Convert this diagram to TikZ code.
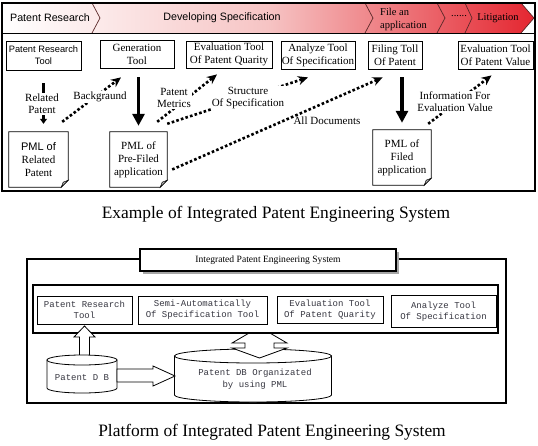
\documentclass[tikz,border=0pt]{standalone}
\usepackage{fontspec}
\setmainfont{Liberation Serif}
\setsansfont{Liberation Sans}
\setmonofont{Liberation Mono}
\usetikzlibrary{arrows.meta,shadows}
\definecolor{hred}{RGB}{228,38,48}
\definecolor{hpink}{RGB}{246,196,196}
\definecolor{chev}{RGB}{90,40,40}
\definecolor{mtxt}{RGB}{55,55,65}
\newcommand{\pmlpage}[1]{%
  \draw[line width=0.7pt] (#1.north west) -- (#1.north east) -- ([yshift=7pt]#1.south east) -- ([xshift=-7pt]#1.south east) -- (#1.south west) -- cycle;
  \draw[line width=0.5pt, fill=black!30] ([yshift=7pt]#1.south east) -- ([xshift=-5pt,yshift=5pt]#1.south east) -- ([xshift=-7pt]#1.south east) -- cycle;}
\begin{document}
\begin{tikzpicture}[x=1pt,y=-1pt,
  tbox/.style={draw, line width=0.8pt, inner sep=0pt, align=center, font=\fontsize{11}{13}\selectfont},
  docnode/.style={inner sep=0pt, align=center, font=\fontsize{11}{13}\selectfont},
  lbl/.style={align=center, font=\fontsize{11}{12}\selectfont, inner sep=1pt},
  lblw/.style={lbl, fill=white},
  dotarrow/.style={line width=2.6pt, dash pattern=on 2.6pt off 2.2pt, -{Stealth[length=10pt,width=9pt]}},
  solidarrow/.style={line width=3.4pt, -{Triangle[length=12pt,width=12pt]}},
  chevline/.style={draw=chev, line width=0.7pt},
  hsans/.style={font=\sffamily\fontsize{10.7}{12}\selectfont, inner sep=0pt},
  hserif/.style={font=\fontsize{10.5}{13}\selectfont, inner sep=0pt},
  mbox/.style={draw, line width=0.7pt, inner sep=0pt, align=center, text=mtxt, font=\ttfamily\fontsize{9}{11}\selectfont},
  mtext/.style={align=center, text=mtxt, font=\ttfamily\fontsize{9}{12}\selectfont, inner sep=0pt},
  hollow/.style={draw, line width=0.8pt, fill=white},
  caption/.style={font=\fontsize{17.4}{20}\selectfont, inner sep=0pt}
]
\useasboundingbox (0,0) rectangle (538,445);
\fill[white] (0,0) rectangle (538,445);

% ---------- header ----------
\shade[left color=white, right color=hred, middle color=hpink] (2,3) -- (521,3) -- (534,18) -- (521,33) -- (2,33) -- cycle;
\draw[chevline] (92,3) -- (100,18) -- (92,33);
\draw[chevline] (365,3) -- (373,18) -- (365,33);
\draw[chevline] (437,3) -- (445,18) -- (437,33);
\draw[chevline] (465,3) -- (472,18) -- (465,33);
\draw[chevline] (521,3) -- (534,18) -- (521,33);
\node[hsans] (h1) at (50,18) {Patent Research};
\node[hsans] (h2) at (222,18) {Developing Specification};
\node[hserif, align=left, anchor=west] (h3) at (380,19.5) {File an\\application};
\node[hserif] (h4) at (459,16) {......};
\node[hserif] (h5) at (498,18) {Litigation};

% frame
\draw[line width=1.3pt] (2,3) rectangle (535,191);
\draw[line width=1pt] (2,33) -- (535,33);

% ---------- top boxes ----------
\node[tbox, minimum width=75, minimum height=29, font=\sffamily\fontsize{9.3}{12}\selectfont] (prt) at (43.5,55.5) {Patent Research\\Tool};
\node[tbox, minimum width=74, minimum height=28] (gen) at (137,54) {Generation\\Tool};
\node[tbox, minimum width=86, minimum height=27] (eq1) at (229,54.5) {Evaluation Tool\\Of Patent Quarity};
\node[tbox, minimum width=74, minimum height=28] (an) at (318,55) {Analyze Tool\\Of Specification};
\node[tbox, minimum width=54, minimum height=28] (ft) at (395,55) {Filing Toll\\Of Patent};
\node[tbox, minimum width=75, minimum height=28] (ev) at (495.5,55) {Evaluation Tool\\Of Patent Value};

% ---------- documents ----------
\node[docnode, minimum width=59, minimum height=55] (d1) at (38.5,159.5) {{\sffamily PML of}\\Related\\Patent};
\node[docnode, minimum width=57, minimum height=55] (d2) at (138.5,159.5) {PML of\\Pre-Filed\\application};
\node[docnode, minimum width=58, minimum height=55] (d3) at (402,157.5) {PML of\\Filed\\application};
\pmlpage{d1}
\pmlpage{d2}
\pmlpage{d3}

% ---------- connectors ----------
\draw[line width=2.6pt, -{Triangle[length=5pt,width=7pt]}, shorten <=13pt, shorten >=8pt] (prt.south) -- (prt.south |- d1.north);
\node[lblw] (lrp) at (42,104) {Related\\Patent};
\draw[solidarrow, shorten <=9pt, shorten >=6pt] (d2.north |- gen.south) -- (d2.north);
\draw[solidarrow, shorten <=8pt, shorten >=7pt] (d3.north |- ft.south) -- (d3.north);

\draw[dotarrow] ([shift={(-6,-10)}]d1.north east) -- ([shift={(-16,9)}]gen.south);
\draw[dotarrow] ([shift={(-10,-10)}]d2.north east) -- ([shift={(-12,6)}]eq1.south);
\draw[dotarrow] ([shift={(0,-8)}]d2.north east) -- ([shift={(-10,8)}]an.south);
\draw[dotarrow] ([shift={(5,10)}]d2.east) -- ([shift={(15,8)}]ft.south west);
\draw[dotarrow] ([shift={(-3,-6)}]d3.north east) -- ([shift={(-4,6)}]ev.south);

\node[lblw] (lbg) at (100,97) {Backgraund};
\node[lblw] (lpm) at (174,98) {Patent\\Metrics};
\node[lblw] (lst) at (248,98) {Structure\\Of Specification};
\node[lbl] (lad) at (327,121) {All Documents};
\node[lblw] (lie) at (455,102) {Information For\\Evaluation Value};

% ---------- caption 1 ----------
\node[caption] (cap1) at (276,214) {Example of Integrated Patent Engineering System};

% ---------- lower platform ----------
\draw[line width=2.2pt] (27,259) rectangle (506,403);

% big cylinder
\filldraw[line width=0.8pt, fill=white] (174.5,356) -- (174.5,395) arc[start angle=180, end angle=0, x radius=78.5, y radius=7] -- (331.5,356) -- cycle;
\draw[line width=0.8pt, fill=white] (253,356) ellipse [x radius=78.5, y radius=7];
\node[mtext] (pdbo) at (255,379) {Patent DB Organizated\\by using PML};

% double arrow between band and big cylinder
\draw[hollow] (259.5,327) -- (287,343) -- (274,343) -- (274,348) -- (287,348) -- (259.5,358) -- (232,348) -- (245,348) -- (245,343) -- (232,343) -- cycle;

% tools band
\node[draw, line width=2pt, fill=white, minimum width=465, minimum height=48, inner sep=0pt] (band) at (265.5,309) {};
\node[mbox, minimum width=95, minimum height=28] (lb1) at (84.5,310) {Patent Research\\Tool};
\node[mbox, minimum width=129, minimum height=28] (lb2) at (202.5,310) {Semi-Automatically\\Of Specification Tool};
\node[mbox, minimum width=106, minimum height=27] (lb3) at (330,309.5) {Evaluation Tool\\Of Patent Quarity};
\node[mbox, minimum width=105, minimum height=32] (lb4) at (443.5,311.5) {Analyze Tool\\Of Specification};

% up arrow from Patent DB
\draw[hollow] (84.5,326) -- (95,337) -- (89.5,337) -- (89.5,362) -- (79.5,362) -- (79.5,337) -- (74,337) -- cycle;

% small cylinder
\filldraw[line width=0.8pt, fill=white] (47,360) -- (47,388) arc[start angle=180, end angle=0, x radius=35, y radius=5] -- (117,360) -- cycle;
\draw[line width=0.8pt, fill=white] (82,360) ellipse [x radius=35, y radius=5];
\node[mtext] (pdb) at (82,378) {Patent D B};

% right hollow arrow
\draw[hollow] (117,369) -- (153,369) -- (153,366) -- (175,376) -- (153,386) -- (153,382) -- (117,382) -- cycle;

% title box
\node[draw, line width=2pt, fill=white, minimum width=256, minimum height=22, inner sep=0pt,
      drop shadow={shadow xshift=3pt, shadow yshift=-3pt, fill=black!35, opacity=1},
      font=\fontsize{9.6}{11}\selectfont] (tb) at (268,260) {Integrated Patent Engineering System};

% ---------- caption 2 ----------
\node[caption] (cap2) at (272,432) {Platform of Integrated Patent Engineering System};
\end{tikzpicture}
\end{document}
